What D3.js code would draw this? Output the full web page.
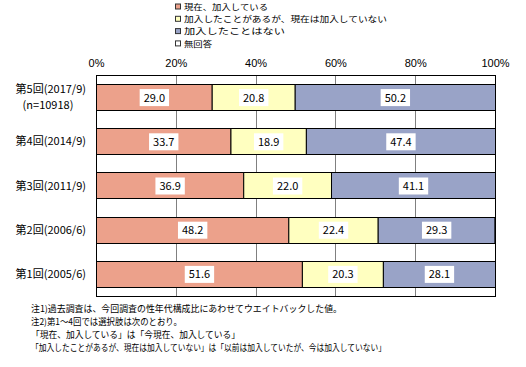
<!DOCTYPE html>
<html><head><meta charset="utf-8">
<script src="https://cdn.jsdelivr.net/npm/d3@7"></script>
<style>
html,body{margin:0;padding:0;background:#fff;}
svg{display:block;font-family:"Noto Sans CJK JP","Noto Sans",sans-serif;}
</style></head>
<body><svg id="c" width="526" height="367"></svg>
<script>
const categories = ["第5回(2017/9)", "第4回(2014/9)", "第3回(2011/9)", "第2回(2006/6)", "第1回(2005/6)"];
const subLabels = ["(n=10918)", "", "", "", ""];
const seriesNames = ["現在、加入している", "加入したことがあるが、現在は加入していない", "加入したことはない", "無回答"];
const current = [29.0, 33.7, 36.9, 48.2, 51.6];
const past = [20.8, 18.9, 22.0, 22.4, 20.3];
const never = [50.2, 47.4, 41.1, 29.3, 28.1];
const noAnswer = [0.0, 0.0, 0.0, 0.1, 0.0];
const tickValues = [0, 20, 40, 60, 80, 100];
const notes = [
  "注1)過去調査は、今回調査の性年代構成比にあわせてウエイトバックした値。",
  "注2)第1～4回では選択肢は次のとおり。",
  "「現在、加入している」は「今現在、加入している」",
  "「加入したことがあるが、現在は加入していない」は「以前は加入していたが、今は加入していない」"
];
const colors = ["#ECA18B", "#FFFFC0", "#99A3C7", "#FFFFFF"];

const svg = d3.select("#c");
const L = 96, R = 495, T = 75, B = 296;
const x = d3.scaleLinear().domain([0, 100]).range([L, R]);
const y = d3.scaleBand().domain(categories).range([T, B]).paddingInner(0.41).paddingOuter(0.205);

// plot background and gridlines
svg.append("rect").attr("x", L).attr("y", T).attr("width", R - L).attr("height", B - T).attr("fill", "#fff");
svg.append("g").selectAll("line").data(tickValues.filter(d => d > 0 && d < 100)).join("line")
  .attr("x1", d => Math.round(x(d)) + 0.5).attr("x2", d => Math.round(x(d)) + 0.5)
  .attr("y1", T).attr("y2", B).attr("stroke", "#808080").attr("stroke-width", 1);

// stacked data
const rows = categories.map((c, i) => ({cat: c, vals: [current[i], past[i], never[i], noAnswer[i]]}));
const stack = d3.stack().keys([0, 1, 2, 3]).value((d, k) => d.vals[k]);
const layers = stack(rows);

const gBars = svg.append("g");
layers.forEach((layer, k) => {
  gBars.selectAll(null).data(layer).join("rect")
    .attr("x", d => x(d[0]) + 0.5)
    .attr("y", d => Math.round(y(d.data.cat)) + 0.5)
    .attr("width", d => Math.max(0, x(d[1]) - x(d[0])))
    .attr("height", Math.round(y.bandwidth()))
    .attr("fill", colors[k]).attr("stroke", "#000").attr("stroke-width", 1);
});

// plot border
svg.append("rect").attr("x", L + 0.5).attr("y", T + 0.5).attr("width", R - L).attr("height", B - T)
  .attr("fill", "none").attr("stroke", "#000").attr("stroke-width", 1);

// value labels
const gLab = svg.append("g");
layers.slice(0, 3).forEach((layer, k) => {
  layer.forEach(d => {
    const cx = x((d[0] + d[1]) / 2) + 0.5;
    const cy = y(d.data.cat) + y.bandwidth() / 2 + 0.5;
    const t = gLab.append("text").attr("x", cx).attr("y", cy + 4)
      .attr("text-anchor", "middle").attr("font-size", 11).attr("fill", "#000")
      .text(d.data.vals[k].toFixed(1));
    const w = t.node().getComputedTextLength() + 8;
    gLab.insert("rect", () => t.node()).attr("x", cx - w / 2).attr("y", cy - 8.5)
      .attr("width", w).attr("height", 17).attr("fill", "#fff");
  });
});

// top axis
const axis = d3.axisTop(x).tickValues(tickValues).tickFormat(d => d + "%").tickSize(0).tickPadding(8);
const gAx = svg.append("g").attr("transform", `translate(0,${T})`).call(axis);
gAx.select(".domain").remove();
gAx.selectAll("text").attr("font-size", 11).attr("font-family", "inherit").attr("fill", "#000");

// category labels
const gCat = svg.append("g");
categories.forEach((c, i) => {
  const cy = y(c) + y.bandwidth() / 2;
  if (subLabels[i]) {
    gCat.append("text").attr("x", 86).attr("y", cy - 8 + 4).attr("text-anchor", "end").attr("font-size", 11).text(c);
    gCat.append("text").attr("x", 48).attr("y", cy + 8 + 4).attr("text-anchor", "middle").attr("font-size", 11).text(subLabels[i]);
  } else {
    gCat.append("text").attr("x", 86).attr("y", cy + 4).attr("text-anchor", "end").attr("font-size", 11).text(c);
  }
});

// legend
const legWidths = [84, 203, 101, 28];
const gLeg = svg.append("g");
seriesNames.forEach((s, i) => {
  const ly = 6.5 + i * 12.3;
  gLeg.append("rect").attr("x", 175.5).attr("y", ly - 2.5).attr("width", 5).attr("height", 5)
    .attr("fill", colors[i]).attr("stroke", "#333").attr("stroke-width", 1);
  gLeg.append("text").attr("x", 184).attr("y", ly + 3.2).attr("font-size", 8.4)
    .attr("textLength", legWidths[i]).attr("lengthAdjust", "spacingAndGlyphs").text(s);
});

// notes
const noteWidths = [311, 151, 209, 355];
const gNote = svg.append("g");
notes.forEach((n, i) => {
  gNote.append("text").attr("x", 31).attr("y", 311.5 + i * 13).attr("font-size", 9)
    .attr("textLength", noteWidths[i]).attr("lengthAdjust", "spacingAndGlyphs").text(n);
});
</script></body></html>
